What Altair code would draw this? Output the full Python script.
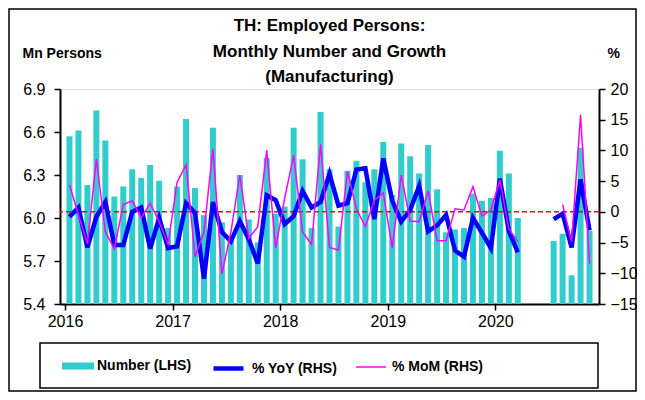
import altair as alt
import pandas as pd

months = [f"{y}-{m:02d}" for y in range(2016, 2021) for m in range(1, 13)][:59]

number = [
    6.57, 6.61, 6.23, 6.75, 6.54, 6.15, 6.22, 6.34, 6.28, 6.37, 6.26, 5.93,
    6.22, 6.69, 6.21, 6.02, 6.63, 5.97, 5.87, 6.30, 5.99, 5.83, 6.42, 6.03,
    6.08, 6.63, 6.41, 5.93, 6.74, 6.34, 5.94, 6.33, 6.40, 6.25, 6.34, 6.53,
    6.16, 6.52, 6.43, 6.31, 6.51, 6.20, 5.90, 5.92, 5.93, 6.17, 6.12, 6.14,
    6.47, 6.31, 6.00, None, None, None, 5.84, 5.89, 5.60, 6.49, 5.91,
]
yoy = [
    -0.8, 0.7, -5.8, -0.8, 1.6, -5.4, -5.4, 0.0, 0.7, -6.0, -1.0, -5.9,
    -5.6, 1.4, -0.2, -10.9, 1.6, -3.3, -4.8, -1.5, -4.5, -8.4, 2.7, 1.9,
    -2.0, -0.7, 3.4, 0.7, 1.6, 6.2, 1.0, 1.4, 6.9, 7.1, -1.2, 8.7,
    1.8, -1.6, 0.3, 4.2, -3.2, -2.2, -0.5, -6.3, -7.3, -1.0, -3.4, -5.9,
    5.4, -3.1, -6.6, None, None, None, -1.2, -0.3, -5.8, 5.3, -3.0,
]
mom = [
    4.4, -0.5, -5.2, 8.6, -3.3, -6.0, 1.2, 1.8, -1.0, 1.4, -1.6, -5.3,
    4.8, 7.7, -7.3, -3.3, 10.3, -10.1, -3.3, 6.0, -4.3, -2.4, 10.0, -5.9,
    2.2, 9.2, -3.3, -5.3, 11.0, -5.8, -6.2, 6.6, 0.5, -2.4, 1.9, 3.1,
    -5.9, 6.0, -1.5, -1.6, 3.4, -4.7, -4.7, 0.5, 0.3, 4.1, -0.7, 0.3,
    5.2, -2.8, -4.8, None, None, None, None, 1.2, -4.9, 15.8, -8.4,
]
year_ticks = [2016, 2017, 2018, 2019, 2020]
left_ticks = [5.4, 5.7, 6.0, 6.3, 6.6, 6.9]
right_ticks = [-15, -10, -5, 0, 5, 10, 15, 20]
title_lines = ["TH: Employed Persons:", "Monthly Number and Growth", "(Manufacturing)"]

df = pd.DataFrame({"month": months, "number": number, "yoy": yoy, "mom": mom})
df["t"] = [i + 0.5 for i in range(len(df))]
df["seg_yoy"] = df["yoy"].isna().cumsum()
df["seg_mom"] = df["mom"].isna().cumsum()
df["s_num"] = "Number (LHS)"
df["s_yoy"] = "% YoY (RHS)"
df["s_mom"] = "% MoM (RHS)"

FONT = "Liberation Sans"

x_enc = alt.X(
    "t:Q",
    scale=alt.Scale(domain=[0, 59], nice=False, zero=False),
    axis=alt.Axis(
        values=[(y - 2016) * 12 for y in year_ticks],
        labelExpr="2016 + datum.value / 12",
        title=None, grid=False, tickSize=6, tickWidth=1.5, tickColor="black",
        domainColor="black", domainWidth=2, labelFont=FONT, labelFontSize=16,
        labelColor="black", labelPadding=3,
    ),
)

base = alt.Chart(df)

bars = base.transform_filter("isValid(datum.number)").mark_bar(width=6).encode(
    x=x_enc,
    y=alt.Y(
        "number:Q",
        scale=alt.Scale(domain=[5.4, 6.9], nice=False, zero=False),
        axis=alt.Axis(
            values=left_ticks, format=".1f", orient="left", grid=False,
            title="Mn Persons", titleAngle=0, titleX=-38, titleY=-32,
            titleAlign="left", titleBaseline="alphabetic", titleFont=FONT,
            titleFontSize=14, titleFontWeight="bold", titleColor="black",
            tickSize=6, tickWidth=1.5, tickColor="black", domainColor="black",
            domainWidth=2, labelFont=FONT, labelFontSize=16, labelColor="black",
            labelPadding=9,
        ),
    ),
    y2=alt.datum(5.4),
    color=alt.Color(
        "s_num:N",
        scale=alt.Scale(domain=["Number (LHS)"], range=["#33CCCC"]),
        legend=alt.Legend(
            orient="none", legendX=2, legendY=261, title=None,
            symbolType="M-1,-0.22H1V0.22H-1Z", symbolSize=1024,
            symbolStrokeWidth=0, labelFont=FONT, labelFontSize=14,
            labelFontWeight="bold", labelColor="black", labelOffset=3,
        ),
    ),
)

pct_scale = alt.Scale(domain=[-15, 20], nice=False, zero=False)

zero_rule = alt.Chart(pd.DataFrame({"z": [0]})).mark_rule(
    color="#FF0000", strokeDash=[5, 3], strokeWidth=1.5
).encode(y=alt.Y("z:Q", scale=pct_scale, axis=None))

yoy_line = base.transform_filter("isValid(datum.yoy)").mark_line(
    strokeWidth=4.5
).encode(
    x=x_enc,
    y=alt.Y(
        "yoy:Q", scale=pct_scale,
        axis=alt.Axis(
            values=right_ticks, orient="right", grid=False, title="%",
            titleAngle=0, titleX=8, titleY=-32, titleAlign="left",
            titleBaseline="alphabetic", titleFont=FONT, titleFontSize=14,
            titleFontWeight="bold", titleColor="black", tickSize=6,
            tickWidth=1.5, tickColor="black", domainColor="black",
            domainWidth=2, labelFont=FONT, labelFontSize=16,
            labelColor="black", labelPadding=5,
        ),
    ),
    detail="seg_yoy:N",
    color=alt.Color(
        "s_yoy:N",
        scale=alt.Scale(domain=["% YoY (RHS)"], range=["#0000FF"]),
        legend=alt.Legend(
            orient="none", legendX=151, legendY=262, title=None,
            symbolType="stroke", symbolSize=900, symbolStrokeWidth=4.5,
            labelFont=FONT, labelFontSize=14, labelFontWeight="bold",
            labelColor="black", labelOffset=6,
        ),
    ),
)

mom_line = base.transform_filter("isValid(datum.mom)").mark_line(
    strokeWidth=1.5
).encode(
    x=x_enc,
    y=alt.Y("mom:Q", scale=pct_scale, axis=None),
    detail="seg_mom:N",
    color=alt.Color(
        "s_mom:N",
        scale=alt.Scale(domain=["% MoM (RHS)"], range=["#FF00FF"]),
        legend=alt.Legend(
            orient="none", legendX=295, legendY=262, title=None,
            symbolType="stroke", symbolSize=900, symbolStrokeWidth=1.5,
            labelFont=FONT, labelFontSize=14, labelFontWeight="bold",
            labelColor="black", labelOffset=5,
        ),
    ),
)

one = pd.DataFrame({"a": [0]})
legend_box = alt.Chart(one).mark_rect(
    fill=None, stroke="black", strokeWidth=1.5
).encode(
    x=alt.value(-20), x2=alt.value(538), y=alt.value(254), y2=alt.value(299)
)
frame = alt.Chart(one).mark_rect(
    fill=None, stroke="black", strokeWidth=1.5
).encode(
    x=alt.value(-51), x2=alt.value(576), y=alt.value(-80), y2=alt.value(302)
)
title = alt.Chart(one).mark_text(
    text=title_lines, font=FONT, fontSize=17, fontWeight="bold",
    color="black", align="center", baseline="alphabetic", lineHeight=25.5,
).encode(x=alt.value(269.5), y=alt.value(-58))

chart = alt.layer(
    frame, legend_box, title, bars, zero_rule, yoy_line, mom_line
).resolve_scale(
    y="independent", color="independent"
).properties(
    width=539,
    height=215,
    autosize=alt.AutoSizeParams(type="none"),
    padding={"left": 52, "top": 81, "right": 38, "bottom": 88},
).configure_view(stroke=None).configure(background="white")

chart.save("out.html", embed_options={"renderer": "svg", "actions": False})
